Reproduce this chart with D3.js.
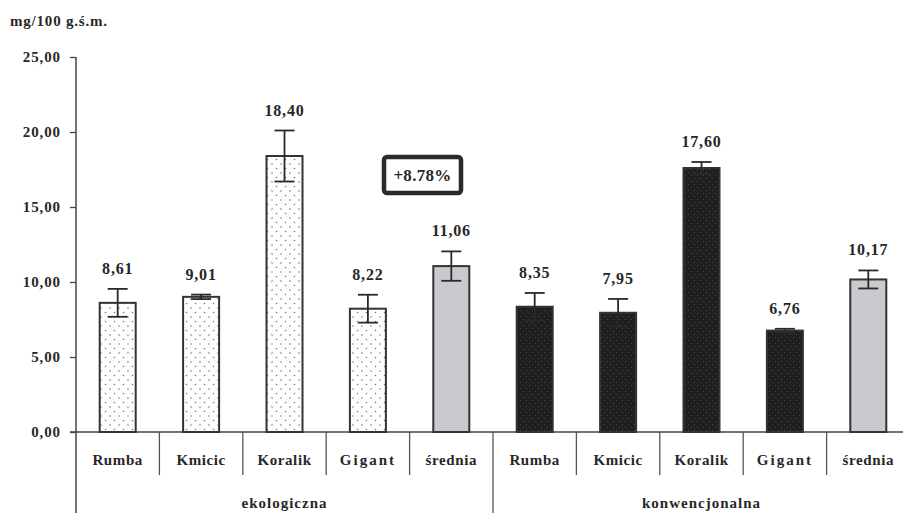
<!DOCTYPE html>
<html>
<head>
<meta charset="utf-8">
<script src="https://cdn.jsdelivr.net/npm/d3@7"></script>
<style>
  html, body { margin: 0; padding: 0; background: #fff; }
  svg { display: block; }
</style>
</head>
<body>
<svg id="chart" width="903" height="513"></svg>
<script>
// Vitamin content by variety and cultivation system
const groups = ["ekologiczna", "konwencjonalna"];
const varieties = ["Rumba", "Kmicic", "Koralik", "Gigant", "średnia"];
const ecoValues = [8.61, 9.01, 18.40, 8.22, 11.06];
const ecoErrors = [0.93, 0.15, 1.70, 0.93, 0.98];
const convValues = [8.35, 7.95, 17.60, 6.76, 10.17];
const convErrors = [0.92, 0.92, 0.40, 0.12, 0.60];
const yTicks = [0, 5, 10, 15, 20, 25];
const unitLabel = "mg/100 g.ś.m.";
const diffLabel = "+8.78%";

const FONT = "'Liberation Serif', 'DejaVu Serif', 'Times New Roman', serif";
const INK = "#272727";

const rows = [];
groups.forEach((g, gi) => {
  const vals = gi === 0 ? ecoValues : convValues;
  const errs = gi === 0 ? ecoErrors : convErrors;
  varieties.forEach((v, i) => {
    rows.push({ key: g + "|" + v, group: g, name: v, value: vals[i], err: errs[i],
                kind: i === varieties.length - 1 ? "mean" : (gi === 0 ? "eco" : "conv") });
  });
});

const svg = d3.select("#chart")
  .style("font-family", FONT).style("font-weight", "bold");
const axisX = 76, baseY = 432, topY = 57;

const x = d3.scaleBand().domain(rows.map(d => d.key)).range([axisX, 910]).paddingInner(0).paddingOuter(0);
const y = d3.scaleLinear().domain([0, 25]).range([baseY, topY]);

function label(sel) {
  return sel.style("font-family", FONT).style("font-weight", "bold").attr("fill", INK);
}

// fill patterns
const defs = svg.append("defs");
const pEco = defs.append("pattern").attr("id", "dotsLight").attr("patternUnits", "userSpaceOnUse")
  .attr("width", 9).attr("height", 9);
pEco.append("rect").attr("width", 9).attr("height", 9).attr("fill", "#fdfdfd");
pEco.append("circle").attr("cx", 2).attr("cy", 2).attr("r", 0.75).attr("fill", "#707076");
pEco.append("circle").attr("cx", 6.5).attr("cy", 6.5).attr("r", 0.75).attr("fill", "#707076");

const pConv = defs.append("pattern").attr("id", "dotsDark").attr("patternUnits", "userSpaceOnUse")
  .attr("width", 6).attr("height", 6);
pConv.append("rect").attr("width", 6).attr("height", 6).attr("fill", "#1f1f22");
pConv.append("circle").attr("cx", 1.5).attr("cy", 1.5).attr("r", 0.6).attr("fill", "#4d4d52");
pConv.append("circle").attr("cx", 4.5).attr("cy", 4.5).attr("r", 0.6).attr("fill", "#4d4d52");

const fills = { eco: "url(#dotsLight)", conv: "url(#dotsDark)", mean: "#c9c9ce" };

// unit label
label(svg.append("text")).attr("x", 10).attr("y", 26).attr("font-size", 15)
  .attr("letter-spacing", 0.8).text(unitLabel);

// y axis
const yAxis = d3.axisLeft(y).tickValues(yTicks).tickSize(6).tickPadding(9)
  .tickFormat(d => d3.format(".2f")(d).replace(".", ","));
const gy = svg.append("g").attr("transform", `translate(${axisX},0)`).call(yAxis);
gy.attr("font-family", null).attr("font-size", null);
gy.select(".domain").remove();
gy.selectAll(".tick line").attr("stroke", "#444").attr("stroke-width", 1.3);
label(gy.selectAll(".tick text")).attr("font-size", 15).attr("letter-spacing", 0.9);
svg.append("line").attr("x1", axisX).attr("x2", axisX).attr("y1", y(25)).attr("y2", 513)
  .attr("stroke", "#444").attr("stroke-width", 1.5);

// baseline
svg.append("line").attr("x1", axisX - 6).attr("x2", 903).attr("y1", baseY).attr("y2", baseY)
  .attr("stroke", "#444").attr("stroke-width", 1.5);

// category separators
const bw = x.bandwidth();
rows.forEach((d, i) => {
  if (i === 0) return;
  const sx = x(d.key);
  const long = d.name === varieties[0];
  svg.append("line").attr("x1", sx).attr("x2", sx).attr("y1", baseY).attr("y2", long ? 513 : 475)
    .attr("stroke", "#555").attr("stroke-width", 1.3);
});

// bars
const barW = 36;
svg.append("g").selectAll("rect").data(rows).join("rect")
  .attr("x", d => x(d.key) + bw / 2 - barW / 2)
  .attr("y", d => y(d.value))
  .attr("width", barW)
  .attr("height", d => baseY - y(d.value))
  .attr("fill", d => fills[d.kind])
  .attr("stroke", "#333").attr("stroke-width", 2);

// error bars
const cap = 10;
const eg = svg.append("g").attr("stroke", "#2a2a2a").attr("stroke-width", 1.8);
rows.forEach(d => {
  const cx = x(d.key) + bw / 2;
  const y1 = y(d.value + d.err), y0 = y(d.value - d.err);
  eg.append("line").attr("x1", cx).attr("x2", cx).attr("y1", y1).attr("y2", y0);
  eg.append("line").attr("x1", cx - cap).attr("x2", cx + cap).attr("y1", y1).attr("y2", y1);
  eg.append("line").attr("x1", cx - cap).attr("x2", cx + cap).attr("y1", y0).attr("y2", y0);
});

// value labels
label(svg.append("g").selectAll("text").data(rows).join("text"))
  .attr("x", d => x(d.key) + bw / 2)
  .attr("y", d => y(d.value + d.err) - 15)
  .attr("text-anchor", "middle").attr("font-size", 16).attr("letter-spacing", 0.8)
  .text(d => d3.format(".2f")(d.value).replace(".", ","));

// category labels
label(svg.append("g").selectAll("text").data(rows).join("text"))
  .attr("x", d => x(d.key) + bw / 2)
  .attr("y", 465)
  .attr("text-anchor", "middle").attr("font-size", 15)
  .attr("letter-spacing", d => d.name === "Gigant" ? 2 : 0.6)
  .text(d => d.name);

// group labels
groups.forEach(g => {
  const keys = rows.filter(r => r.group === g).map(r => r.key);
  const gx = (x(keys[0]) + x(keys[keys.length - 1]) + bw) / 2;
  label(svg.append("text")).attr("x", gx).attr("y", 508).attr("text-anchor", "middle")
    .attr("font-size", 15).attr("letter-spacing", 1).text(g);
});

// difference box
svg.append("rect").attr("x", 384).attr("y", 157).attr("width", 77).attr("height", 36)
  .attr("rx", 3).attr("fill", "#fff").attr("stroke", "#2a2a2a").attr("stroke-width", 4.5);
label(svg.append("text")).attr("x", 422.5).attr("y", 181).attr("text-anchor", "middle")
  .attr("font-size", 17).attr("letter-spacing", 0.3).text(diffLabel);
</script>
</body>
</html>
